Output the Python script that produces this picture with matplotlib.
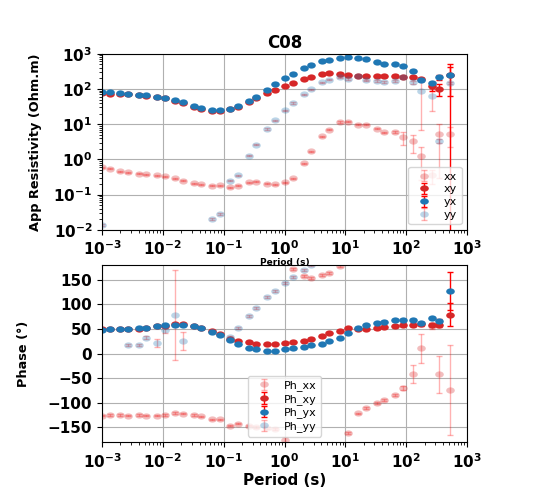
import numpy as np
import matplotlib
matplotlib.use("Agg")
import matplotlib.pyplot as plt
from matplotlib.path import Path
from matplotlib.transforms import Affine2D

nan = np.nan

# periods (s)
period = [0.001, 0.00133, 0.002, 0.00267, 0.004, 0.00533, 0.008, 0.0107, 0.016, 0.0213,
          0.032, 0.0427, 0.064, 0.0853, 0.128, 0.171, 0.256, 0.341, 0.512, 0.683,
          1.024, 1.365, 2.048, 2.731, 4.096, 5.461, 8.192, 10.92, 16.38, 21.85,
          32.77, 43.69, 65.54, 87.38, 131.1, 174.8, 262.1, 349.5, 524.3]

# apparent resistivity (Ohm.m)
rho_xx = [0.60, 0.54, 0.465, 0.435, 0.39, 0.38, 0.35, 0.335, 0.295, 0.245,
          0.21, 0.194, 0.178, 0.186, 0.163, 0.178, 0.221, 0.231, 0.203, 0.194,
          0.226, 0.295, 0.78, 1.68, 4.47, 6.9, 11.5, 11.8, 9.6, 9.6,
          7.4, 5.8, 5.95, 4.3, 3.24, 1.26, 0.35, 5.3, 5.3]
rho_xy = [76, 73, 71.5, 70, 66, 63, 57.5, 54, 46, 39.5,
          31.6, 27, 23.5, 23.5, 27, 31, 42.5, 54, 75, 91,
          123, 147, 191, 217, 270, 276, 258, 248, 237, 232,
          232, 227, 237, 213, 213, 187, 118, 99, 248]
rho_yx = [81, 80, 76, 73, 69, 66, 60, 56, 47, 42,
          33, 29, 25, 25, 27.5, 33, 46, 57.5, 95, 137,
          204, 270, 395, 487, 605, 647, 770, 804, 737, 705,
          593, 498, 498, 437, 323, 183, 147, 213, 248]
rho_yy = [0.0139, nan, nan, nan, nan, nan, nan, nan, nan, nan,
          nan, nan, 0.0204, 0.028, 0.247, 0.35, 1.26, 2.6, 7.25, 12.8,
          24.6, 40, 70, 99, 153, 183, 213, 190, 237, 174,
          164, 157, 171, 213, 153, 87, 61.5, 3.4, 147]

rho_xx_err = [0.02, 0.02, 0.015, 0.015, 0.012, 0.012, 0.01, 0.01, 0.01, 0.008,
              0.007, 0.006, 0.006, 0.006, 0.005, 0.006, 0.007, 0.007, 0.006, 0.006,
              0.007, 0.01, 0.03, 0.05, 0.15, 0.2, 0.4, 0.4, 0.3, 0.3,
              0.3, 0.3, 0.4, 1.7, 1.7, 1.0, 0.15, 5.0, 3.0]
rho_xy_err = [2, 2, 2, 2, 2, 2, 1.5, 1.5, 1.2, 1,
              1, 0.8, 0.7, 0.7, 0.8, 1, 1.3, 1.6, 2, 3,
              4, 4, 5, 6, 8, 8, 8, 8, 8, 8,
              8, 10, 15, 15, 15, 12, 28, 35, 260]
rho_yx_err = [2, 2, 2, 2, 2, 2, 1.5, 1.5, 1.2, 1,
              1, 0.8, 0.7, 0.7, 0.8, 1, 1.3, 1.6, 3, 4,
              6, 8, 12, 15, 18, 20, 25, 25, 25, 25,
              20, 20, 25, 25, 20, 15, 15, 30, 183]
rho_yy_err = [0.0008, nan, nan, nan, nan, nan, nan, nan, nan, nan,
              nan, nan, 0.001, 0.0015, 0.01, 0.015, 0.05, 0.1, 0.3, 0.5,
              1, 1.5, 2.5, 3, 5, 6, 8, 8, 10, 8,
              10, 12, 12, 15, 15, 80, 38, 0.5, 10]

# phase (degrees)
ph_xx = [-126, -125, -125, -126, -125, -126, -126, -124.5, -121, -122,
         -124.5, -127.5, -134, -134, -146.6, -142.4, -146.6, -150, -152, -154,
         -175.5, 171.3, 157.5, 154, 159, 163, 178.8, -161.8, -121.8, -110,
         -101, -94.3, -84.7, -70, -42, 10.3, 55, -42, -73.7]
ph_xy = [48.9, 50.2, 50.2, 50.9, 50.9, 52.3, 55.7, 56.4, 59.9, 59.9,
         56.4, 52.3, 45.4, 39.9, 29.6, 25.5, 22.7, 18.6, 19, 19.3,
         20.6, 23.4, 26.1, 30.3, 35.8, 41.3, 46.8, 51.6, 50.2, 50.2,
         51.6, 54.4, 55, 57.1, 57.8, 61, 58.5, 57.5, 79]
ph_yx = [48.2, 48.9, 49.5, 50.2, 51.6, 52.3, 55.7, 57.1, 58.5, 57.8,
         55.7, 51.6, 43.3, 38.5, 26.8, 20, 11.7, 9.6, 6, 6,
         8.3, 10.3, 12.4, 16.5, 20, 24.8, 32.3, 41.3, 52.3, 57.8,
         62.6, 64.7, 68.1, 68.8, 68.1, 62, 72.3, 66.7, 127.2]
ph_yy = [nan, nan, nan, 17.2, 17.2, 32.3, 20.6, 48.2, 77.8, 25.5,
         nan, nan, nan, nan, 34.4, 51.6, 77.1, 92, 114, 126.5,
         143.7, 155.4, 170.5, 179, nan, nan, nan, nan, nan, nan,
         nan, nan, nan, nan, nan, nan, nan, nan, nan]

ph_xx_err = [1.5, 1.5, 1.5, 1.5, 1.5, 1.5, 1.5, 1.5, 1.5, 1.5,
             1.5, 1.5, 1.5, 1.5, 1.5, 1.5, 1.5, 2, 2, 2,
             6, 2, 2, 2, 2, 2, 2, 2, 2, 2,
             2, 2, 2, 4.5, 18, 29, 5, 38, 91]
ph_xy_err = [0.5, 0.5, 0.5, 0.5, 0.5, 0.5, 0.5, 0.5, 0.5, 0.5,
             0.5, 0.5, 0.5, 0.5, 0.5, 0.5, 0.5, 0.5, 0.6, 0.6,
             0.6, 0.6, 0.7, 0.8, 1, 1, 1, 1, 1, 1,
             1.2, 1.5, 1.5, 2, 2, 4, 3, 4, 23]
ph_yx_err = [0.5, 0.5, 0.5, 0.5, 0.5, 0.5, 0.5, 0.5, 0.5, 0.5,
             0.5, 0.5, 0.5, 0.5, 0.5, 0.5, 0.5, 0.5, 0.6, 0.6,
             0.6, 0.6, 0.7, 0.8, 1, 1, 1, 1, 1, 1,
             1.2, 1.5, 1.5, 2, 2, 3, 3, 4, 38]
ph_yy_err = [nan, nan, nan, 2, 2, 3, 8, 6, 91, 19,
             nan, nan, nan, nan, 2, 2, 2, 2, 2, 2,
             2, 2, 2, 2, nan, nan, nan, nan, nan, nan,
             nan, nan, nan, nan, nan, nan, nan, nan, nan]

plt.rcParams['font.weight'] = 'bold'
plt.rcParams['axes.labelweight'] = 'bold'
plt.rcParams['axes.titleweight'] = 'bold'
plt.rcParams['mathtext.default'] = 'regular'

fig = plt.figure(figsize=(5.4, 4.88), dpi=100)
ax1 = fig.add_axes([0.189, 0.529, 0.676, 0.361])
ax2 = fig.add_axes([0.189, 0.094, 0.676, 0.363])

# the reference picture is a bit stretched sideways, so the dots are wide ellipses
oval = Path.unit_circle().transformed(Affine2D().scale(1.38, 1.0))
kw = dict(fmt='o', marker=oval, ms=6.2, capsize=2.2, capthick=1,
          elinewidth=1, ecolor='r')


def draw(ax, xx, xy, yx, yy, errs, labels):
    series = [(xx, 'tab:red', 0.3), (xy, 'tab:red', 1.0),
              (yx, 'tab:blue', 1.0), (yy, 'tab:blue', 0.3)]
    for (vals, col, a), err, lab in zip(series, errs, labels):
        cont = ax.errorbar(period, vals, yerr=err, color=col, alpha=a, label=lab, **kw)
        # no outline on the dots themselves (caps keep their width)
        cont[0].set_markeredgewidth(0)
    ax.set_xscale('log')
    ax.set_xlim(1e-3, 1e3)
    ax.grid(True)
    ax.tick_params(labelsize=11)


draw(ax1, rho_xx, rho_xy, rho_yx, rho_yy,
     [rho_xx_err, rho_xy_err, rho_yx_err, rho_yy_err], ['xx', 'xy', 'yx', 'yy'])
ax1.set_yscale('log')
ax1.set_ylim(1e-2, 1e3)
ax1.set_title('C08', fontsize=12, pad=4)
ax1.set_ylabel('App Resistivity (Ohm.m)', fontsize=9.3)
ax1.yaxis.set_label_coords(-0.165, 0.5)
ax1.set_xlabel('Period (s)', fontsize=6.5, labelpad=0)
ax1.legend(loc='lower right', prop={'weight': 'normal', 'size': 8}, labelspacing=0.25)

draw(ax2, ph_xx, ph_xy, ph_yx, ph_yy,
     [ph_xx_err, ph_xy_err, ph_yx_err, ph_yy_err], ['Ph_xx', 'Ph_xy', 'Ph_yx', 'Ph_yy'])
ax2.set_ylim(-180, 180)
ax2.set_yticks([-150, -100, -50, 0, 50, 100, 150])
ax2.set_ylabel('Phase (°)', fontsize=9.3)
ax2.yaxis.set_label_coords(-0.197, 0.5)
ax2.set_xlabel('Period (s)', fontsize=11, labelpad=2)
ax2.legend(loc='lower center', prop={'weight': 'normal', 'size': 8}, labelspacing=0.25)

fig.savefig('out.png', dpi=100)
